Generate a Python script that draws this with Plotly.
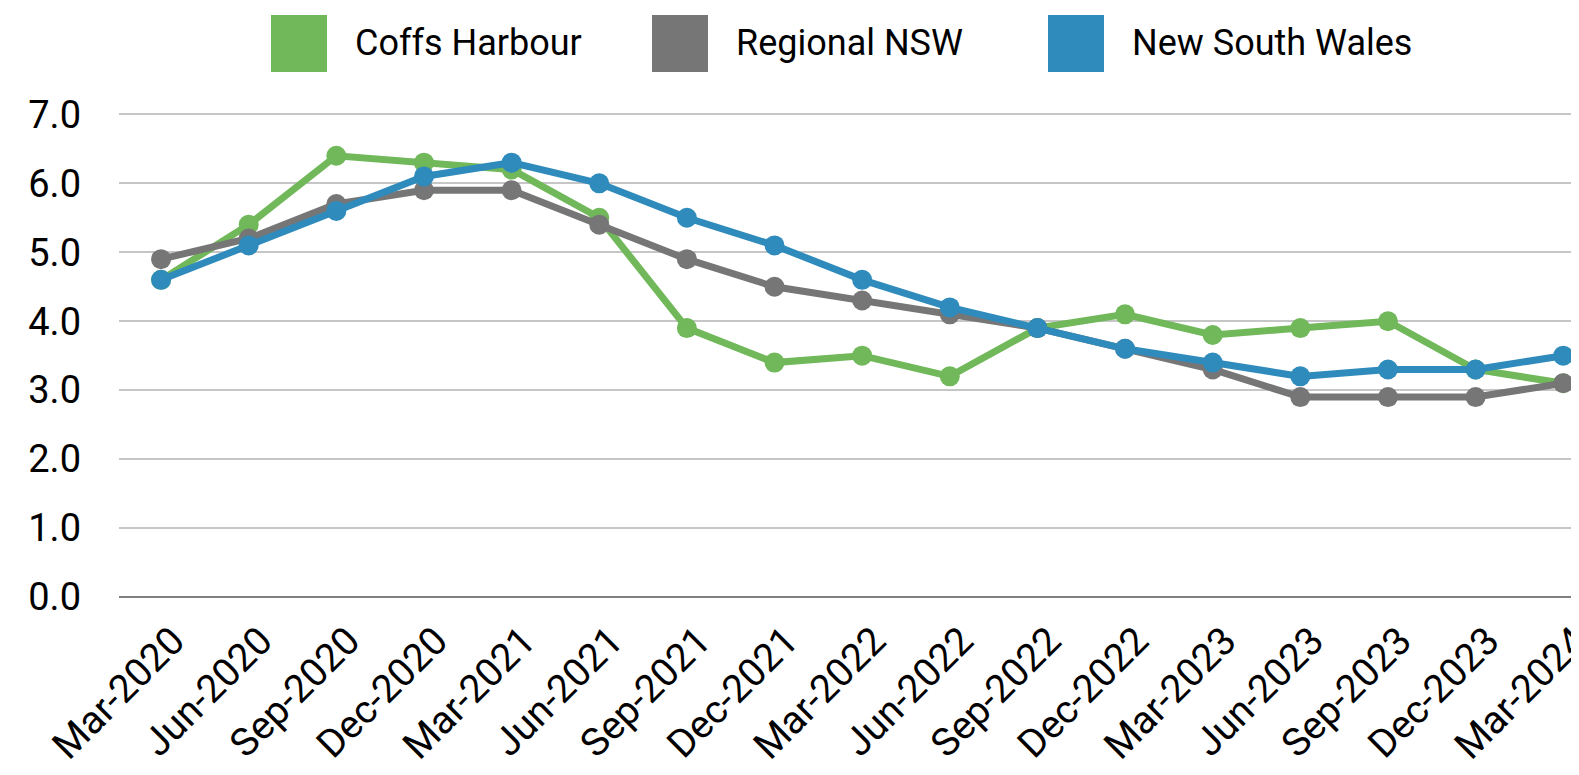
import plotly.graph_objects as go

quarters = ["Mar-2020", "Jun-2020", "Sep-2020", "Dec-2020", "Mar-2021", "Jun-2021",
            "Sep-2021", "Dec-2021", "Mar-2022", "Jun-2022", "Sep-2022", "Dec-2022",
            "Mar-2023", "Jun-2023", "Sep-2023", "Dec-2023", "Mar-2024"]
coffs_harbour = [4.6, 5.4, 6.4, 6.3, 6.2, 5.5, 3.9, 3.4, 3.5, 3.2, 3.9, 4.1, 3.8, 3.9, 4.0, 3.3, 3.1]
regional_nsw = [4.9, 5.2, 5.7, 5.9, 5.9, 5.4, 4.9, 4.5, 4.3, 4.1, 3.9, 3.6, 3.3, 2.9, 2.9, 2.9, 3.1]
new_south_wales = [4.6, 5.1, 5.6, 6.1, 6.3, 6.0, 5.5, 5.1, 4.6, 4.2, 3.9, 3.6, 3.4, 3.2, 3.3, 3.3, 3.5]
series_names = ["Coffs Harbour", "Regional NSW", "New South Wales"]
y_ticks = [0, 1, 2, 3, 4, 5, 6, 7]

colors = ["#70b85a", "#767676", "#2e8bbc"]
FONT = "Roboto, sans-serif"

OFF = 8  # page body margin offset
W, H = 1579 - OFF, 775 - OFF
L, R, T, B = 119 - OFF, 0, 113 - OFF, 775 - 597
pw, ph = W - L - R, H - T - B

def px_x(px):
    return (px - OFF - L) / pw

def px_y(py):
    return (H - B - (py - OFF)) / ph

fig = go.Figure()
for name, vals, col in zip(series_names, [coffs_harbour, regional_nsw, new_south_wales], colors):
    fig.add_trace(go.Scatter(
        x=list(range(len(quarters))), y=vals, name=name, mode="lines+markers",
        line=dict(color=col, width=7), marker=dict(color=col, size=20),
        showlegend=False, cliponaxis=False,
    ))

# custom legend (square swatches)
box_left = [271, 652, 1048]
text_left = [353, 734, 1130]
for name, col, bx, tx in zip(series_names, colors, box_left, text_left):
    fig.add_shape(type="rect", xref="paper", yref="paper",
                  x0=px_x(bx), x1=px_x(bx + 56), y0=px_y(72), y1=px_y(15),
                  fillcolor=col, line=dict(width=0))
    fig.add_annotation(xref="paper", yref="paper", x=px_x(tx), y=px_y(43),
                       text=name, showarrow=False, xanchor="left", yanchor="middle",
                       font=dict(family=FONT, size=36, color="#000000"))

fig.update_layout(
    width=W, height=H,
    margin=dict(l=L, r=R, t=T, b=B, autoexpand=False),
    paper_bgcolor="white", plot_bgcolor="white",
    font=dict(family=FONT, color="#000000"),
    xaxis=dict(
        tickmode="array", tickvals=list(range(len(quarters))), ticktext=quarters,
        range=[-0.48, 16.18], tickangle=-45, tickfont=dict(size=39),
        ticklabeloverflow="allow", ticklabelshift=12, ticklabelstandoff=12,
        showgrid=False, zeroline=False, showline=False, ticks="", automargin=False,
    ),
    yaxis=dict(
        range=[0, 7.02], tickvals=y_ticks, tickformat=".1f",
        tickfont=dict(size=38), showgrid=True, gridcolor="#c6c6c6", gridwidth=2,
        zeroline=True, zerolinecolor="#7f7f7f", zerolinewidth=2,
        ticks="", ticklabelstandoff=37, automargin=False,
    ),
)

fig.write_html("out.html")
